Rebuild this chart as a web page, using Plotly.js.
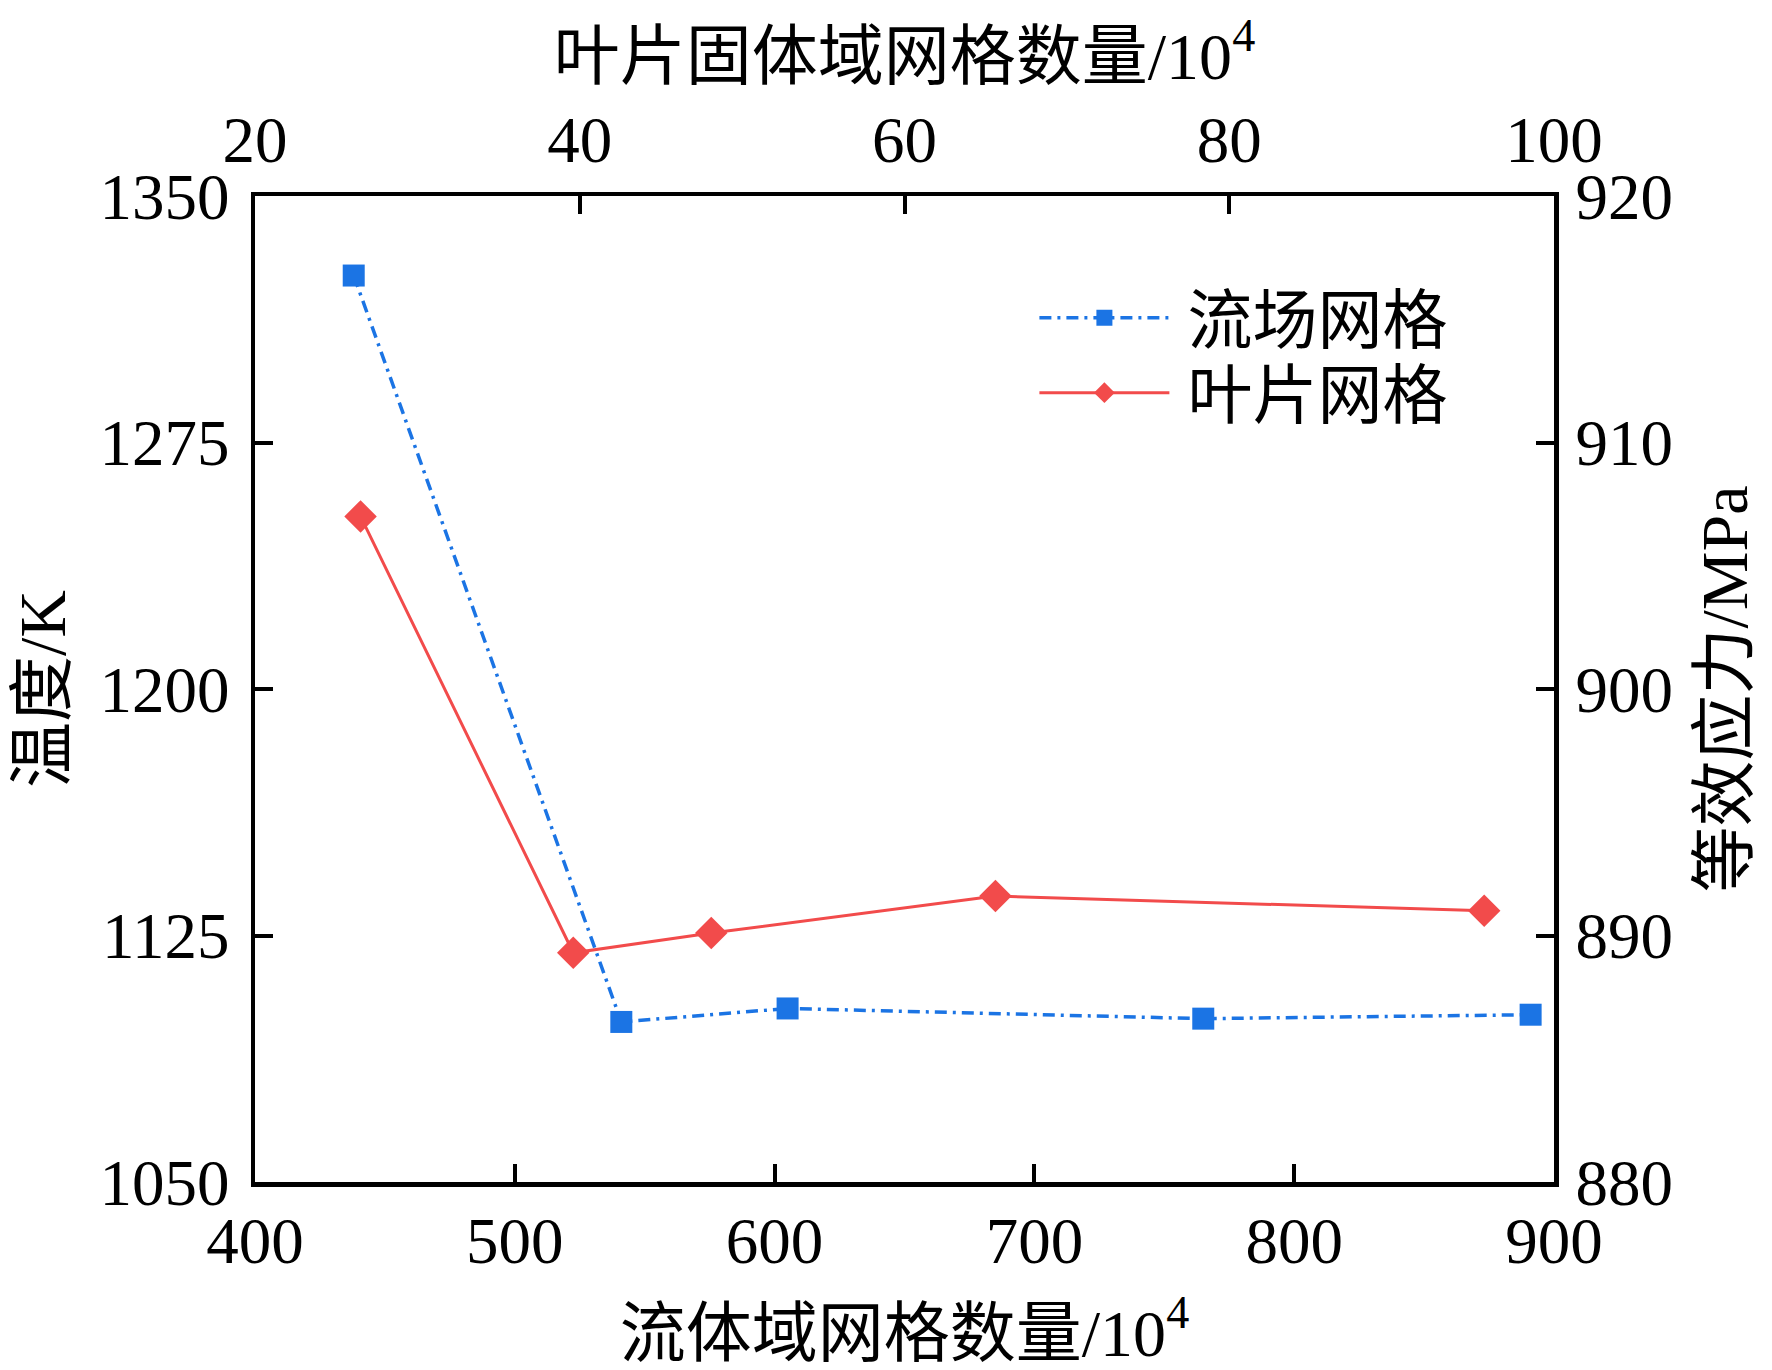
<!DOCTYPE html>
<html>
<head>
<meta charset="utf-8">
<script src="https://cdn.plot.ly/plotly-3.0.1.min.js"></script>
<style>
  body { margin: 0; background: #fff; }
  #chart { width: 1772px; height: 1370px; }
</style>
</head>
<body>
<div id="chart"></div>
<script>
// flow-field mesh (bottom x / left y)
var flowCells = [438, 541, 605, 765, 891];
var flowTemp = [1325.8, 1098.7, 1102.8, 1099.7, 1100.9];

// blade mesh (top x / right y)
var bladeCells = [26.5, 39.6, 48.1, 65.6, 95.7];
var bladeStress = [907.0, 889.3, 890.1, 891.6, 891.0];

var bottomTicks = [400, 500, 600, 700, 800, 900];
var topTicks = [20, 40, 60, 80, 100];
var leftTicks = [1050, 1125, 1200, 1275, 1350];
var rightTicks = [880, 890, 900, 910, 920];

var numFont = 'Liberation Serif, Times New Roman, serif';
var textFont = 'Liberation Serif, Noto Sans CJK SC, serif';

function axisStyle(range, ticks, side, standoff) {
    return {
        range: range,
        tickmode: 'array',
        tickvals: ticks,
        ticktext: ticks.map(String),
        side: side,
        ticks: 'inside',
        ticklen: 18,
        tickwidth: 4,
        tickcolor: '#000',
        showline: true,
        linewidth: 4.5,
        linecolor: '#000',
        showgrid: false,
        zeroline: false,
        automargin: false,
        ticklabelstandoff: standoff,
        tickfont: {family: numFont, size: 65, color: '#000'}
    };
}

function axisTitle(text, standoff) {
    var t = {text: text, font: {family: textFont, size: 66, color: '#000'}};
    if (standoff !== undefined) t.standoff = standoff;
    return t;
}

var flowTrace = {
    type: 'scatter',
    mode: 'lines+markers',
    name: '\u2009流场网格',
    x: flowCells,
    y: flowTemp,
    xaxis: 'x',
    yaxis: 'y',
    legend: 'legend',
    line: {color: '#1b74e4', width: 3.5, dash: '12px,6px,3px,6px'},
    marker: {symbol: 'square', size: 22, color: '#1b74e4'}
};

var bladeTrace = {
    type: 'scatter',
    mode: 'lines+markers',
    name: '\u2009叶片网格',
    x: bladeCells,
    y: bladeStress,
    xaxis: 'x2',
    yaxis: 'y2',
    legend: 'legend2',
    line: {color: '#f24b4b', width: 3},
    marker: {symbol: 'diamond', size: 25, color: '#f24b4b'}
};

var xaxis = axisStyle([400, 900], bottomTicks, 'bottom', -2);
xaxis.title = axisTitle('流体域网格数量/10<sup>4</sup>');

// top title sits lower than the default spot, so let standoff apply here
var xaxis2 = axisStyle([20, 100], topTicks, 'top', 4);
xaxis2.overlaying = 'x';
xaxis2.anchor = 'y';
xaxis2.automargin = true;
xaxis2.title = axisTitle('叶片固体域网格数量/10<sup>4</sup>', 4);

var yaxis = axisStyle([1050, 1350], leftTicks, 'left', 8);
yaxis.title = axisTitle('温度/K', 14);

var yaxis2 = axisStyle([880, 920], rightTicks, 'right', 4);
yaxis2.overlaying = 'y';
yaxis2.anchor = 'x';
yaxis2.title = axisTitle('等效应力/MPa', 30);

function legendBox(top) {
    return {
        x: 0.6,
        y: top,
        xanchor: 'left',
        yanchor: 'top',
        bgcolor: 'rgba(0,0,0,0)',
        borderwidth: 0,
        itemwidth: 130,
        itemsizing: 'trace',
        font: {family: textFont, size: 65, color: '#000'}
    };
}

var layout = {
    width: 1772,
    height: 1370,
    margin: {l: 255, r: 218, t: 196, b: 188, pad: 0},
    paper_bgcolor: '#fff',
    plot_bgcolor: '#fff',
    xaxis: xaxis,
    xaxis2: xaxis2,
    yaxis: yaxis,
    yaxis2: yaxis2,
    showlegend: true,
    legend: legendBox(0.926),
    legend2: legendBox(0.850)
};

Plotly.newPlot('chart', [flowTrace, bladeTrace], layout, {staticPlot: true});
</script>
</body>
</html>
